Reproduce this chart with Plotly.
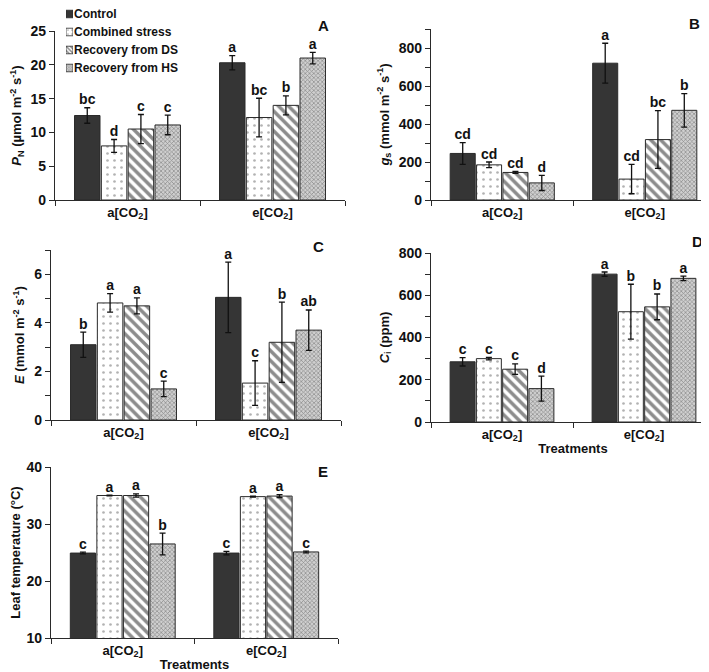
import plotly.graph_objects as go

W, H = 709, 672

categories = ["a[CO<sub>2</sub>]", "e[CO<sub>2</sub>]"]
series = ["Control", "Combined stress", "Recovery from DS", "Recovery from HS"]
legend_pos = [0, 1, 2, 3]

# Panel A: PN
pn_mean = [[12.5, 20.3], [8.0, 12.2], [10.5, 14.0], [11.1, 21.0]]
pn_err = [[1.15, 1.05], [0.95, 2.85], [2.15, 1.4], [1.45, 0.85]]
pn_lett = [["bc", "a"], ["d", "bc"], ["c", "b"], ["c", "a"]]

# Panel B: gs
gs_mean = [[245, 720], [185, 110], [145, 318], [90, 472]]
gs_err = [[57, 105], [15, 77], [5, 152], [40, 88]]
gs_lett = [["cd", "a"], ["cd", "cd"], ["cd", "bc"], ["d", "b"]]

# Panel C: E
e_mean = [[3.1, 5.05], [4.82, 1.52], [4.7, 3.2], [1.28, 3.7]]
e_err = [[0.52, 1.45], [0.38, 0.92], [0.33, 1.65], [0.32, 0.83]]
e_lett = [["b", "a"], ["a", "c"], ["a", "b"], ["c", "ab"]]

# Panel D: Ci
ci_mean = [[285, 700], [300, 522], [250, 545], [158, 680]]
ci_err = [[20, 10], [6, 130], [25, 61], [59, 11]]
ci_lett = [["c", "a"], ["c", "b"], ["c", "b"], ["d", "a"]]

# Panel E: leaf temperature
lt_mean = [[24.9, 24.9], [35.0, 34.8], [35.0, 34.9], [26.5, 25.1]]
lt_err = [[0.15, 0.3], [0.05, 0.1], [0.3, 0.25], [1.9, 0.15]]
lt_lett = [["c", "c"], ["a", "a"], ["a", "a"], ["b", "c"]]

FONT = "Liberation Sans, Arial, sans-serif"
EDGE = "#2a2a2a"

styles = [
    dict(color="#353535", line=dict(color=EDGE, width=1)),
    dict(color="white", line=dict(color=EDGE, width=1),
         pattern=dict(shape=".", fgcolor="#666666", bgcolor="white", size=7, solidity=0.12)),
    dict(color="white", line=dict(color=EDGE, width=1),
         pattern=dict(shape="\\", fgcolor="#1a1a1a", bgcolor="white", size=7, solidity=0.5)),
    dict(color="#b0b0b0", line=dict(color=EDGE, width=1),
         pattern=dict(shape="x", fgcolor="#444444", bgcolor="#cfcfcf", size=3, solidity=0.4)),
]
swatch_styles = [
    dict(color="#353535", line=dict(color=EDGE, width=0.8)),
    dict(color="white", line=dict(color=EDGE, width=0.8),
         pattern=dict(shape=".", fgcolor="#666666", bgcolor="white", size=4, solidity=0.15)),
    dict(color="white", line=dict(color=EDGE, width=0.8),
         pattern=dict(shape="\\", fgcolor="#1a1a1a", bgcolor="white", size=3, solidity=0.5)),
    dict(color="#b0b0b0", line=dict(color=EDGE, width=0.8),
         pattern=dict(shape="x", fgcolor="#444444", bgcolor="#cfcfcf", size=2, solidity=0.4)),
]

panels = [
    dict(mean=pn_mean, err=pn_err, lett=pn_lett, ax="", rng=[0, 25], dtick=5, minor=None,
         title="<i>P</i><sub>N</sub> (µmol m<sup>-2</sup> s<sup>-1</sup>)",
         px=(47, 337), py=(23, 192), letter="A", lpos=(323, 17), xtitle=None),
    dict(mean=gs_mean, err=gs_err, lett=gs_lett, ax="2", rng=[0, 900], dtick=200, minor=100,
         title="<i>g</i><sub>s</sub> (mmol m<sup>-2</sup> s<sup>-1</sup>)",
         px=(423, 708), py=(21, 192), letter="B", lpos=(694, 15), xtitle=None),
    dict(mean=e_mean, err=e_err, lett=e_lett, ax="3", rng=[0, 7], dtick=2, minor=1,
         title="<i>E</i> (mmol m<sup>-2</sup> s<sup>-1</sup>)",
         px=(43, 333), py=(242, 412), letter="C", lpos=(318, 238), xtitle=None),
    dict(mean=ci_mean, err=ci_err, lett=ci_lett, ax="4", rng=[0, 800], dtick=200, minor=100,
         title="<i>C</i><sub>i</sub> (ppm)",
         px=(423, 707), py=(245, 414), letter="D", lpos=(697, 233), xtitle="Treatments"),
    dict(mean=lt_mean, err=lt_err, lett=lt_lett, ax="5", rng=[10, 40], dtick=10, minor=None,
         title="Leaf temperature (°C)",
         px=(43, 330), py=(459, 630), letter="E", lpos=(322, 463), xtitle="Treatments"),
]

fig = go.Figure()
BARGAP = 0.26

for pi, p in enumerate(panels):
    xa, ya = "x" + p["ax"], "y" + p["ax"]
    for si, name in enumerate(series):
        fig.add_trace(go.Bar(
            x=categories, y=p["mean"][si], name=name, xaxis=xa, yaxis=ya,
            marker=styles[si], offsetgroup=str(si), showlegend=False,
            error_y=dict(type="data", array=p["err"][si], color="#111111",
                         thickness=1.3, width=3),
        ))
    for si, name in enumerate(series):
        ytxt = [m + e for m, e in zip(p["mean"][si], p["err"][si])]
        fig.add_trace(go.Scatter(
            x=categories, y=ytxt, text=p["lett"][si], mode="text",
            textposition="top center", xaxis=xa, yaxis=ya, offsetgroup=str(si),
            textfont=dict(family=FONT, size=14, color="#111111", weight="bold"),
            showlegend=False, hoverinfo="skip", cliponaxis=False,
        ))

# legend drawn as a small key axis (swatches + labels as tick text)
for si, name in enumerate(series):
    fig.add_trace(go.Bar(
        x=[1], y=[legend_pos[si]], orientation="h", width=0.42, base=0,
        xaxis="x6", yaxis="y6", marker=swatch_styles[si], offsetgroup="key",
        showlegend=False, hoverinfo="skip",
    ))


def fy(py):
    return 1 - py / H


layout = dict(
    width=W, height=H, margin=dict(l=0, r=0, t=0, b=0),
    paper_bgcolor="white", plot_bgcolor="rgba(0,0,0,0)",
    barmode="group", bargap=BARGAP, bargroupgap=0.05,
    scattermode="group", scattergap=BARGAP,
    font=dict(family=FONT, size=13, color="#111111", weight="bold"),
    showlegend=False,
    annotations=[],
    xaxis6=dict(domain=[58 / W, 65 / W], range=[0, 1], anchor="y6", visible=False,
                fixedrange=True),
    yaxis6=dict(domain=[fy(70), fy(0)], anchor="x6", range=[(70 - 6) / 18, -6 / 18],
                side="right", tickmode="array", tickvals=legend_pos, ticktext=series,
                showline=False, showgrid=False, zeroline=False, ticks="",
                ticklabelstandoff=0, ticklabeloverflow="allow", automargin=False,
                tickfont=dict(family=FONT, size=12, color="#111111", weight="bold")),
)

for p in panels:
    k = p["ax"]
    xkey, ykey = "xaxis" + k, "yaxis" + k
    xd = [p["px"][0] / W, p["px"][1] / W]
    yd = [fy(p["py"][1]), fy(p["py"][0])]
    xax = dict(domain=xd, anchor="y" + k, showline=True, linecolor=EDGE, linewidth=1.2,
               ticks="outside", tickson="boundaries", ticklen=5, tickcolor=EDGE,
               showgrid=False, zeroline=False, automargin=False,
               tickfont=dict(family=FONT, size=13, weight="bold"))
    if p["xtitle"]:
        xax["title"] = dict(text=p["xtitle"], font=dict(family=FONT, size=13, weight="bold"),
                            standoff=1)
    yax = dict(domain=yd, anchor="x" + k, range=p["rng"], dtick=p["dtick"],
               showline=True, linecolor=EDGE, linewidth=1.2, ticks="outside",
               ticklen=5, tickcolor=EDGE, showgrid=False, zeroline=False, automargin=False,
               tickfont=dict(family=FONT, size=14, weight="bold"),
               title=dict(text=p["title"], font=dict(family=FONT, size=13, weight="bold"),
                          standoff=6))
    if p["minor"]:
        yax["minor"] = dict(dtick=p["minor"], ticks="outside", ticklen=5, tickcolor=EDGE)
    layout[xkey] = xax
    layout[ykey] = yax
    layout["annotations"].append(dict(
        text=p["letter"], x=p["lpos"][0] / W, y=fy(p["lpos"][1]),
        xref="paper", yref="paper",
        showarrow=False, font=dict(family=FONT, size=15, weight="bold"),
        xanchor="right", yanchor="middle"))

fig.update_layout(**layout)
fig.write_html("out.html")
